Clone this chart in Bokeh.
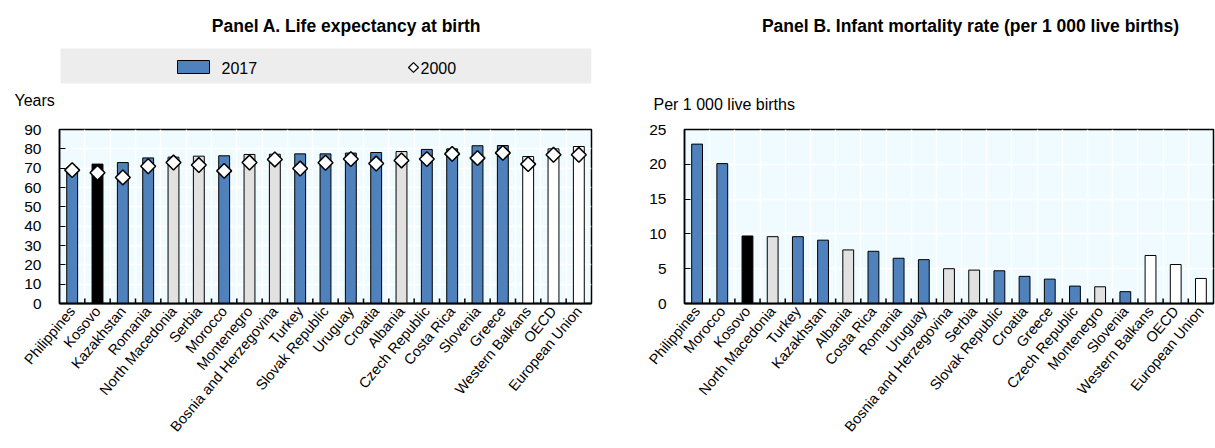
import math
from bokeh.plotting import figure
from bokeh.layouts import row, column
from bokeh.models import ColumnDataSource, Range1d, FixedTicker, Title
from bokeh.core.properties import value
from bokeh.embed import file_html
from bokeh.resources import INLINE

# ---------------- data ----------------
countries_a = ["Philippines", "Kosovo", "Kazakhstan", "Romania", "North Macedonia", "Serbia",
               "Morocco", "Montenegro", "Bosnia and Herzegovina", "Turkey", "Slovak Republic",
               "Uruguay", "Croatia", "Albania", "Czech Republic", "Costa Rica", "Slovenia",
               "Greece", "Western Balkans", "OECD", "European Union"]
life_2017 = [70.3, 72.1, 72.9, 75.3, 75.7, 76.2, 76.4, 77.1, 77.2, 77.4, 77.4,
             77.8, 78.1, 78.6, 79.7, 80.0, 81.6, 81.7, 76.0, 80.0, 81.2]
life_2000 = [69.0, 67.6, 65.2, 71.0, 72.9, 71.6, 68.6, 72.9, 74.5, 69.8, 72.8,
             74.7, 72.4, 74.0, 74.7, 77.4, 75.2, 77.9, 72.1, 76.9, 76.9]

countries_b = ["Philippines", "Morocco", "Kosovo", "North Macedonia", "Turkey", "Kazakhstan",
               "Albania", "Costa Rica", "Romania", "Uruguay", "Bosnia and Herzegovina", "Serbia",
               "Slovak Republic", "Croatia", "Greece", "Czech Republic", "Montenegro", "Slovenia",
               "Western Balkans", "OECD", "European Union"]
infant_mort = [22.9, 20.1, 9.7, 9.6, 9.6, 9.1, 7.7, 7.5, 6.5, 6.3, 5.0, 4.8,
               4.7, 3.9, 3.5, 2.5, 2.4, 1.7, 6.9, 5.6, 3.6]

yticks_a = [0, 10, 20, 30, 40, 50, 60, 70, 80, 90]
yticks_b = [0, 5, 10, 15, 20, 25]

focus_economy = "Kosovo"
wb_economies = ["Albania", "Bosnia and Herzegovina", "Montenegro", "North Macedonia", "Serbia"]
aggregates = ["Western Balkans", "OECD", "European Union"]

# ---------------- style ----------------
BLUE = "#4F81BD"
GREY = "#E1E1E1"
BG = "#F0FBFF"
FONT = "Liberation Sans"


def bar_color(c):
    if c == focus_economy:
        return "black"
    if c in wb_economies:
        return GREY
    if c in aggregates:
        return "white"
    return BLUE


TOP_H = 120                      # height of the header figures
TOP_FRAME_BOTTOM = 87            # header frame bottom (unit label sits below it)
FRAME_TOP = 129                  # row of the chart frame top
FRAME_H = 174
CHART_H = 448 - TOP_H
A_X0, A_X1 = 0, 593
B_X0, B_X1 = 593, 1215
A_LEFT, B_LEFT, RIGHT = 59, 91, 2


def make_chart(cats, vals, yticks, width, left_border, v2000=None):
    ymax = yticks[-1]
    n = len(cats)
    top_border = FRAME_TOP - TOP_H
    p = figure(width=width, height=CHART_H, x_range=Range1d(0, n),
               y_range=Range1d(0, ymax), output_backend="svg", toolbar_location=None,
               min_border_left=left_border, min_border_right=RIGHT, min_border_top=top_border,
               min_border_bottom=CHART_H - top_border - FRAME_H)
    p.background_fill_color = BG
    p.border_fill_color = "white"
    p.outline_line_color = "black"
    p.outline_line_width = 1.5

    centers = [i + 0.5 for i in range(n)]
    bounds = list(range(1, n))

    p.xgrid.ticker = FixedTicker(ticks=bounds)
    p.xgrid.grid_line_color = "white"
    p.xgrid.grid_line_width = 1.5
    p.ygrid.grid_line_color = "white"
    p.ygrid.grid_line_width = 1.5
    p.ygrid.ticker = FixedTicker(ticks=yticks)

    src = dict(x=centers, cat=cats, val=vals, color=[bar_color(c) for c in cats])
    if v2000 is not None:
        src["v2000"] = v2000
    source = ColumnDataSource(src)
    p.vbar(x="x", top="val", width=0.43, source=source, fill_color="color",
           line_color="black", line_width=1)
    if v2000 is not None:
        p.scatter(x="x", y="v2000", source=source, marker="square", angle=math.pi / 4,
                  size=10.5, fill_color="white", line_color="black", line_width=1.5)

    # small category-boundary ticks pointing up from the axis
    tick_len = 5 * ymax / FRAME_H
    p.segment(x0=bounds, y0=[0] * len(bounds), x1=bounds, y1=[tick_len] * len(bounds),
              line_color="black", line_width=1.5)

    # axes
    p.yaxis.ticker = FixedTicker(ticks=yticks)
    p.yaxis.major_tick_in = 6
    p.yaxis.major_tick_out = 0
    p.yaxis.minor_tick_line_color = None
    p.yaxis.major_label_standoff = 18
    p.yaxis.axis_line_width = 1.5
    p.yaxis.major_label_text_font = FONT
    p.yaxis.major_label_text_font_size = "15.5px"
    p.yaxis.major_label_text_color = "black"

    p.xaxis.ticker = FixedTicker(ticks=centers)
    p.xaxis.major_label_overrides = {c: name for c, name in zip(centers, cats)}
    p.xaxis.major_label_orientation = math.radians(50)
    p.xaxis.major_tick_line_color = None
    p.xaxis.minor_tick_line_color = None
    p.xaxis.major_tick_in = 0
    p.xaxis.major_tick_out = 0
    p.xaxis.axis_line_width = 2
    p.xaxis.major_label_standoff = 5
    p.xaxis.major_label_text_font = FONT
    p.xaxis.major_label_text_font_size = "14.5px"
    p.xaxis.major_label_text_color = "black"
    return p


def make_top(x0, x1, left_border, unit_text, unit_x, standoff):
    # frame is aligned with the chart frame below; data units = page pixels
    width = x1 - x0
    p = figure(width=width, height=TOP_H,
               x_range=Range1d(x0 + left_border, x1 - RIGHT),
               y_range=Range1d(TOP_FRAME_BOTTOM, 0),
               output_backend="svg", toolbar_location=None, x_axis_location=None,
               y_axis_location=None, min_border_left=left_border, min_border_right=RIGHT,
               min_border_top=0, min_border_bottom=TOP_H - TOP_FRAME_BOTTOM)
    p.outline_line_color = None
    p.background_fill_color = "white"
    p.border_fill_color = "white"
    p.grid.visible = False
    p.add_layout(Title(text=unit_text, align="left", offset=unit_x - (x0 + left_border),
                       text_font=FONT, text_font_size="16px", text_font_style="normal",
                       text_color="black", standoff=standoff), "below")
    return p


# ---------------- Panel A ----------------
topA = make_top(A_X0, A_X1, A_LEFT, "Years", 14, 5)
topA.text(x=[346], y=[25], text=["Panel A. Life expectancy at birth"], text_font=value(FONT),
          text_font_size=value("17.5px"), text_font_style="bold", text_align="center",
          text_baseline="middle", text_color="black")
topA.quad(left=[60], right=[591], top=[48], bottom=[83], fill_color="#EDEDED", line_color=None)
topA.quad(left=[177], right=[209], top=[60], bottom=[73], fill_color=BLUE, line_color="black",
          line_width=1)
topA.text(x=[221], y=[67], text=["2017"], text_font=value(FONT), text_font_size=value("16px"),
          text_align="left", text_baseline="middle", text_color="black")
topA.scatter(x=[413], y=[67], marker="square", angle=math.pi / 4, size=7, fill_color="white",
             line_color="black", line_width=1.2)
topA.text(x=[420], y=[67], text=["2000"], text_font=value(FONT), text_font_size=value("16px"),
          text_align="left", text_baseline="middle", text_color="black")

chartA = make_chart(countries_a, life_2017, yticks_a, A_X1 - A_X0, A_LEFT, v2000=life_2000)

# ---------------- Panel B ----------------
topB = make_top(B_X0, B_X1, B_LEFT, "Per 1 000 live births", 653, 12)
topB.text(x=[970], y=[25], text=["Panel B. Infant mortality rate (per 1 000 live births)"],
          text_font=value(FONT), text_font_size=value("17.5px"), text_font_style="bold",
          text_align="center", text_baseline="middle", text_color="black")

chartB = make_chart(countries_b, infant_mort, yticks_b, B_X1 - B_X0, B_LEFT)

layout = row(column(topA, chartA), column(topB, chartB))

with open("out.html", "w") as f:
    f.write(file_html(layout, INLINE))
